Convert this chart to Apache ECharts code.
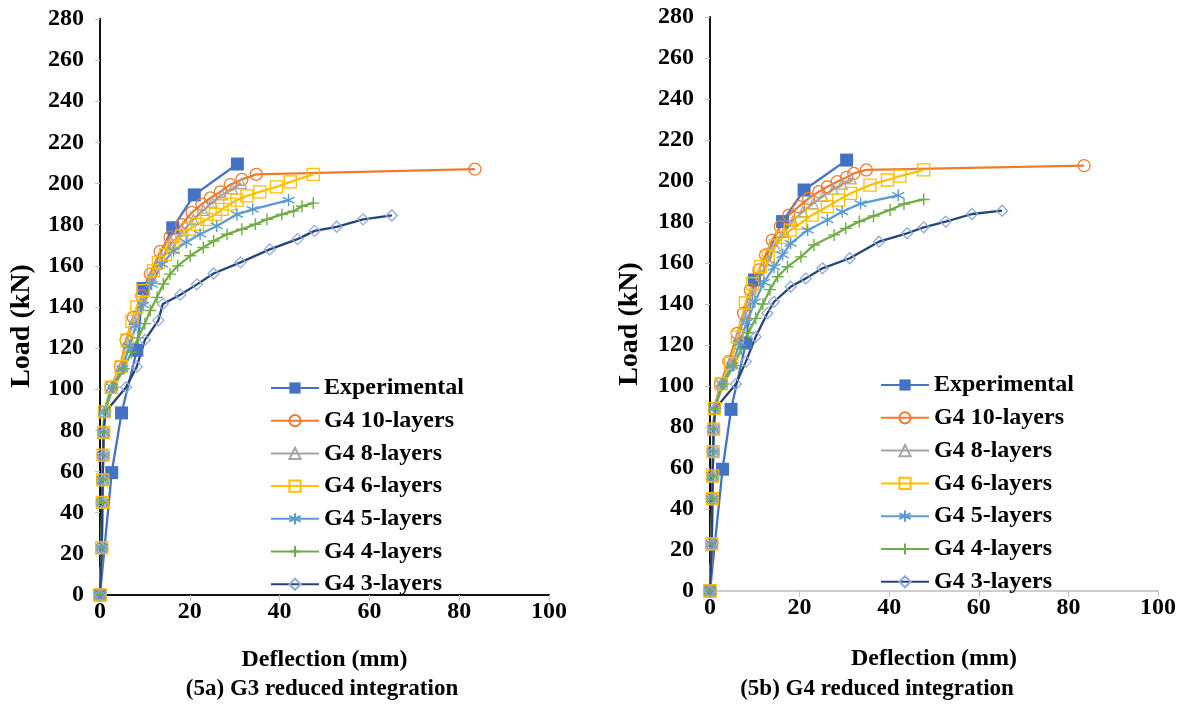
<!DOCTYPE html>
<html>
<head>
<meta charset="utf-8">
<script src="https://cdn.jsdelivr.net/npm/echarts@6/dist/echarts.min.js"></script>
<style>
html,body{margin:0;padding:0;background:#fff;}
#chart{width:1189px;height:704px;}
</style>
</head>
<body>
<div id="chart"></div>
<script>
// ---------- tick labels / names ----------
const seriesNames = ['Experimental','G4 10-layers','G4 8-layers','G4 6-layers','G4 5-layers','G4 4-layers','G4 3-layers'];
const xTitle = 'Deflection (mm)';
const yTitle = 'Load (kN)';
const captionA = '(5a) G3 reduced integration';
const captionB = '(5b) G4 reduced integration';

// ---------- (5a) data ----------
const aExpD = [0, 2.6, 4.8, 8.2, 9.6, 16.2, 21, 30.6];
const aExpL = [0, 59.5, 88.5, 119, 149, 178.5, 194.5, 209.5];

const a10D = [0,0.4,0.5,0.6,0.7,0.8,1.0,2.4,4.5,5.8,7.4,9.3,11.2,13.4,15.6,18.2,20.5,22.7,24.6,26.8,29.0,31.6,34.8,83.5];
const a10L = [0,23,45,56,68,79,89,101,111,124,135,145.5,156,167,174,180,186,190,193,196,199.5,202,204.5,207];

const a8D = [0,0.4,0.5,0.6,0.7,0.8,1.0,2.5,4.6,6.0,7.6,9.5,11.5,13.7,16.0,18.5,20.8,23.0,25.0,27.2,29.5,31.5];
const a8L = [0,23,45,56,68,79,89,101,111,123,134,144,154,164,171,177,182.5,187,191,194.5,197.5,200];

const a6D = [0,0.4,0.5,0.6,0.7,0.8,1.0,2.5,4.7,6.0,7.1,8.2,9.6,11.9,13.0,14.6,16.2,18.2,19.9,21.7,23.8,25.7,27.2,28.9,30.5,32.7,35.6,39.3,42.4,47.5];
const a6L = [0,23,45,56,68,79,89,101,111,124,133,140,148,157.6,161.7,165.5,169,174.6,177.8,180.2,182.6,185,187.5,190,192,194,196,198.4,200.8,204.5];

const a5D = [0,0.4,0.5,0.6,0.7,0.8,1.0,2.7,5.0,6.5,8.0,9.6,11.5,13.8,16.4,19.2,22.3,26.0,30.5,34.0,42.0];
const a5L = [0,23,45,56,68,79,89,101,110,121,131,141,151,160.9,167.3,171.5,175.4,179.4,185,187.5,192];

const a4D = [0,0.4,0.5,0.6,0.7,0.8,1.0,3.0,5.3,7.0,8.5,10.0,11.2,12.7,14.1,15.6,17.3,20.1,23.0,25.3,28.3,31.6,34.6,37.2,40.5,43.1,45.0,47.5];
const a4L = [0,23,45,56,68,79,89,101,110,118,125,131.9,138.3,144.7,151.2,156,160,164.9,168.9,172.1,175.4,177.8,180.2,182.6,185,186.6,189,190.5];

const a3D = [0,0.4,0.5,0.6,0.7,0.8,1.2,5.8,8.2,10.0,13.0,14.0,17.9,21.6,25.3,31.3,37.8,44.0,47.8,52.7,58.6,65.0];
const a3L = [0,23,45,56,68,79,89,101,111,124,133.5,141.5,146,151,156.3,161.7,168,173,177,179,182.6,184.5];

// ---------- (5b) data ----------
const bExpD = [0, 2.8, 4.7, 8.0, 9.9, 16.2, 21, 30.5];
const bExpL = [0, 59.4, 88.6, 121, 151.7, 180.2, 195.6, 210.2];

const b10D = [0,0.4,0.5,0.6,0.7,0.8,1.0,2.3,4.2,6.1,7.5,9.0,10.9,12.4,13.9,15.7,17.6,19.8,22.0,24.3,26.2,28.4,30.5,32.1,34.9,83.5];
const b10L = [0,23,45,56,68,79,89,101,112,125.7,135.5,146.8,156.6,163.9,171.2,177.7,183.4,187.5,191.5,194.8,197.2,199.7,201.8,203.7,205.4,207.5];

const b8D = [0,0.4,0.5,0.6,0.7,0.8,1.0,2.4,4.4,6.3,7.8,9.4,11.3,13.0,14.6,16.5,18.5,20.7,23.0,25.2,27.5,29.5,31.5];
const b8L = [0,23,45,56,68,79,89,101,111,124,134,144.5,154,161,168,175,180.5,185,189,192.5,196,198.5,201];

const b6D = [0,0.4,0.5,0.6,0.7,0.8,1.0,2.5,4.6,6.1,7.9,9.5,11.3,13.0,14.6,16.2,17.9,20.2,22.8,26.2,28.7,31.4,35.7,39.6,42.4,47.7];
const b6L = [0,23,45,56,68,79,89,101,111,124,140.5,150,158.2,163.5,168.5,172.5,176,179.4,183.4,187.5,190.7,194,198,200.5,202.4,205.4];

const b5D = [0,0.4,0.5,0.6,0.7,0.8,1.0,2.7,5.0,6.6,8.2,10.0,12.0,14.3,16.2,18.0,21.8,26.2,29.5,33.6,42.0];
const b5L = [0,23,45,56,68,79,89,101,110,121,131,141,150.5,158,164,169.6,176,181,185,189,193];

const b4D = [0,0.4,0.5,0.6,0.7,0.8,1.0,3.0,5.3,7.0,8.6,10.2,11.8,13.4,15.1,17.3,20.3,23.2,27.7,30.3,33.3,36.5,40.2,43.3,47.7];
const b4L = [0,23,45,56,68,79,89,101,110,118,126,133,140,147,153.3,158.2,163,168.8,173.7,176.9,180.2,182.9,185.9,188.8,191];

const b3D = [0,0.4,0.5,0.6,0.7,0.8,1.2,5.8,8.0,10.2,12.8,14.3,18.0,21.4,25.1,31.2,37.7,44.0,47.7,52.6,58.5,65.2];
const b3L = [0,23,45,56,68,79,89,101,111.9,124,135.5,141.1,148.4,152.5,157.4,162.3,170.4,174.5,177.4,180.2,183.9,185.5];

// ---------- styles ----------
const FONT = 'Liberation Serif';
const styles = [
  {line:'#4472C4', mark:'#4472C4', symbol:'rect', size:13, filled:true},
  {line:'#ED7D31', mark:'#ED7D31', symbol:'circle', size:12},
  {line:'#A5A5A5', mark:'#A5A5A5', symbol:'triangle', size:10},
  {line:'#FFC000', mark:'#FFC000', symbol:'rect', size:12},
  {line:'#5B9BD5', mark:'#5B9BD5', symbol:'path://M5,0L5,10M0.7,2.5L9.3,7.5M0.7,7.5L9.3,2.5', size:12, stroke:true},
  {line:'#70AD47', mark:'#70AD47', symbol:'path://M5,0L5,10M0,5L10,5', size:12, stroke:true},
  {line:'#264478', mark:'#8FAADC', symbol:'diamond', size:11}
];

function zip(d, l){ return d.map((v,i)=>[v,l[i]]); }

const aSets = [[aExpD,aExpL],[a10D,a10L],[a8D,a8L],[a6D,a6L],[a5D,a5L],[a4D,a4L],[a3D,a3L]];
const bSets = [[bExpD,bExpL],[b10D,b10L],[b8D,b8L],[b6D,b6L],[b5D,b5L],[b4D,b4L],[b3D,b3L]];

function makeSeries(sets, axisIdx){
  return sets.map((s,i)=>{
    const st = styles[i];
    let itemStyle;
    if (st.filled) itemStyle = {color: st.mark, borderWidth:0};
    else if (st.stroke) itemStyle = {color: st.mark, borderColor: st.mark, borderWidth:1.4};
    else itemStyle = {color:'rgba(255,255,255,0)', borderColor: st.mark, borderWidth:1.3};
    return {
      name: seriesNames[i],
      type:'line',
      xAxisIndex: axisIdx, yAxisIndex: axisIdx,
      data: zip(s[0], s[1]),
      symbol: st.symbol, symbolSize: st.size,
      showAllSymbol: true,
      lineStyle:{color: st.line, width:2.3},
      itemStyle: itemStyle,
      emphasis:{disabled:true}
    };
  });
}

const tickFont = {fontFamily:FONT, fontWeight:'bold', fontSize:24, color:'#000'};
function xAx(grid){
  return {type:'value', gridIndex:grid, min:0, max:100, interval:20,
    axisLine:{show:true, onZero:false, lineStyle:{color:'#BFBFBF', width:1.5}},
    axisTick:{show:true, length:6, lineStyle:{color:'#BFBFBF'}},
    splitLine:{show:false},
    axisLabel:Object.assign({margin:5}, tickFont),
    name:xTitle, nameLocation:'middle', nameGap: grid===0 ? 53 : 56,
    nameTextStyle:{fontFamily:FONT, fontWeight:'bold', fontSize:24, color:'#000'}
  };
}
function yAx(grid){
  return {type:'value', gridIndex:grid, min:0, max:280, interval:20,
    axisLine:{show:true, onZero:false, lineStyle:{color:'#BFBFBF', width:1.5}},
    axisTick:{show:true, length:5, lineStyle:{color:'#BFBFBF'}},
    splitLine:{show:false},
    axisLabel:Object.assign({margin:16}, tickFont)
  };
}
function borderX(grid){
  return {type:'value', gridIndex:grid, min:0, max:100, position:'top',
    axisLine:{show:true, lineStyle:{color:'#111', width:2}},
    axisTick:{show:false}, axisLabel:{show:false}, splitLine:{show:false}};
}
function borderY(grid){
  return {type:'value', gridIndex:grid, min:0, max:280, position:'right',
    axisLine:{show:true, lineStyle:{color:'#111', width:2}},
    axisTick:{show:false}, axisLabel:{show:false}, splitLine:{show:false}};
}

const legendText = {fontFamily:FONT, fontWeight:'bold', fontSize:24, color:'#000', lineHeight:24};

const option = {
  animation:false,
  backgroundColor:'#fff',
  grid:[
    {left:100, right:640, top:19, bottom:109},
    {left:710, right:31, top:17, bottom:113}
  ],
  xAxis:[xAx(0), xAx(1), borderX(0)],
  yAxis:[yAx(0), yAx(1), borderY(0), borderY(1)],
  legend:[
    {orient:'vertical', left:265, top:371, itemWidth:48, itemHeight:14, itemGap:8.7,
     data:seriesNames, textStyle:legendText, selectedMode:false},
    {orient:'vertical', left:875, top:368, itemWidth:48, itemHeight:14, itemGap:8.8,
     data:seriesNames, textStyle:legendText, selectedMode:false}
  ],
  graphic:[
    {type:'text', x:22, y:326, rotation:Math.PI/2, silent:true,
     style:{text:yTitle, fontFamily:FONT, fontWeight:'bold', fontSize:28, fill:'#000', align:'center', verticalAlign:'middle'}},
    {type:'text', x:630, y:324, rotation:Math.PI/2, silent:true,
     style:{text:yTitle, fontFamily:FONT, fontWeight:'bold', fontSize:28, fill:'#000', align:'center', verticalAlign:'middle'}},
    {type:'text', x:322, y:689, silent:true,
     style:{text:captionA, fontFamily:FONT, fontWeight:'bold', fontSize:23, fill:'#000', align:'center', verticalAlign:'middle'}},
    {type:'text', x:877, y:689, silent:true,
     style:{text:captionB, fontFamily:FONT, fontWeight:'bold', fontSize:23, fill:'#000', align:'center', verticalAlign:'middle'}}
  ],
  series: makeSeries(aSets,0).concat(makeSeries(bSets,1))
};

const chart = echarts.init(document.getElementById('chart'), null, {renderer:'canvas'});
chart.setOption(option);
</script>
</body>
</html>
